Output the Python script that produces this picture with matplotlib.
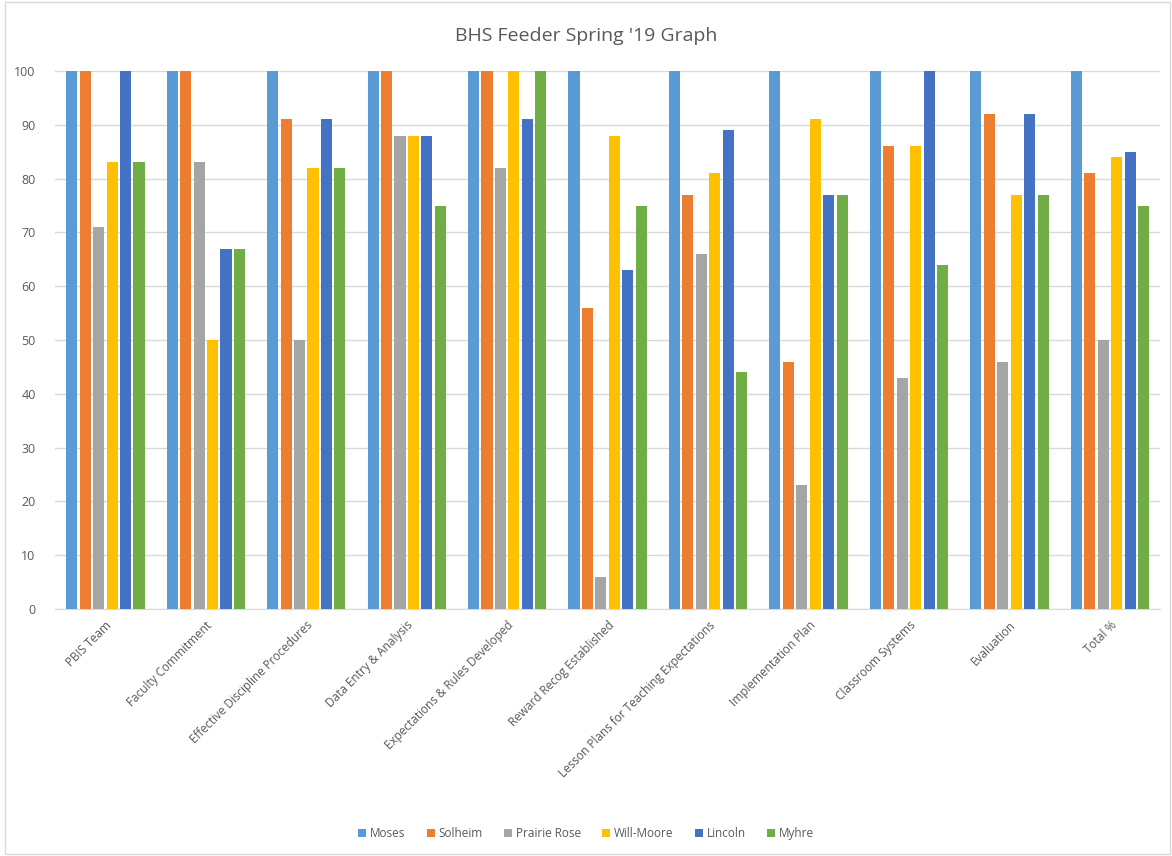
import numpy as np
import matplotlib
matplotlib.use('Agg')
from matplotlib import pyplot as plt
from matplotlib.patches import Rectangle

plt.rcParams['font.family'] = ['Open Sans', 'DejaVu Sans']

# Chart data
categories = ['PBIS Team', 'Faculty Commitment', 'Effective Discipline Procedures',
              'Data Entry & Analysis', 'Expectations & Rules Developed',
              'Reward Recog Established', 'Lesson Plans for Teaching Expectations',
              'Implementation Plan', 'Classroom Systems', 'Evaluation', 'Total %']
series_names = ['Moses', 'Solheim', 'Prairie Rose', 'Will-Moore', 'Lincoln', 'Myhre']
moses = [100, 100, 100, 100, 100, 100, 100, 100, 100, 100, 100]
solheim = [100, 100, 91, 100, 100, 56, 77, 46, 86, 92, 81]
prairie_rose = [71, 83, 50, 88, 82, 6, 66, 23, 43, 46, 50]
will_moore = [83, 50, 82, 88, 100, 88, 81, 91, 86, 77, 84]
lincoln = [100, 67, 91, 88, 91, 63, 89, 77, 100, 92, 85]
myhre = [83, 67, 82, 75, 100, 75, 44, 77, 64, 77, 75]
colors = ['#5b9bd5', '#ed7d31', '#a5a5a5', '#ffc000', '#4472c4', '#70ad47']

series = [moses, solheim, prairie_rose, will_moore, lincoln, myhre]

fig = plt.figure(figsize=(11.72, 8.56), dpi=100)
ax = fig.add_axes([0.047, 0.2886, 0.943, 0.6284])

x = np.arange(len(categories))
step = 0.134
width = 0.11
for j, vals in enumerate(series):
    ax.bar(x + (j - 2.5) * step, vals, width, color=colors[j], label=series_names[j], zorder=3)

ax.set_xlim(-0.5, len(categories) - 0.5)
ax.set_ylim(0, 100)
ax.set_yticks(range(0, 101, 10))
ax.yaxis.grid(True, color='#d9d9d9', linewidth=1, zorder=0)
ax.tick_params(axis='y', length=0, labelsize=9, labelcolor='#595959', pad=14)
ax.tick_params(axis='x', length=0, pad=7)
for s in ['top', 'right', 'left']:
    ax.spines[s].set_visible(False)
ax.spines['bottom'].set_color('#d9d9d9')

ax.set_xticks(x)
ax.set_xticklabels(categories, rotation=45, ha='right', va='top', rotation_mode='anchor',
                   fontsize=8.5, color='#595959')

fig.text(0.5, 0.958, "BHS Feeder Spring '19 Graph", ha='center', va='center',
         fontsize=14, color='#595959')

leg = fig.legend(loc='center', bbox_to_anchor=(0.5, 0.026), ncol=6, frameon=False,
                 fontsize=8.5, handlelength=0.7, handleheight=0.7, columnspacing=1.8,
                 handletextpad=0.3)
for t in leg.get_texts():
    t.set_color('#595959')

# chart border
fig.patches.append(Rectangle((0.004, 0.002), 0.994, 0.996, transform=fig.transFigure,
                             fill=False, edgecolor='#d9d9d9', linewidth=1))

fig.savefig('out.png', dpi=100)
